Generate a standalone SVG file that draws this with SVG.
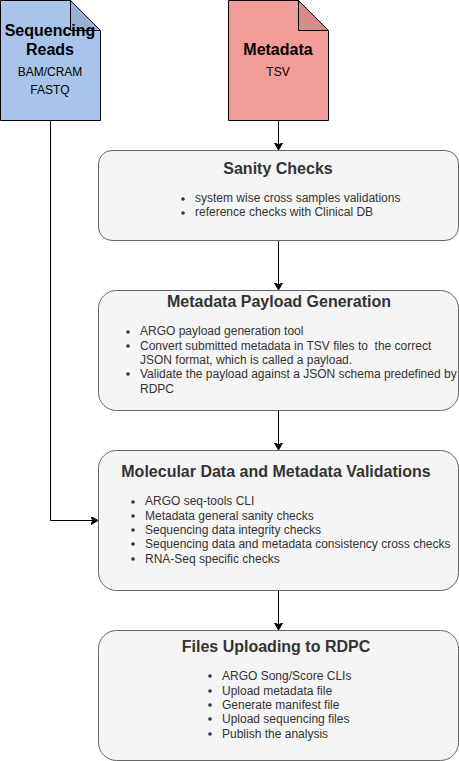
<svg xmlns="http://www.w3.org/2000/svg" width="459" height="761" viewBox="0 0 459 761">
<defs>
<marker id="arr" markerUnits="userSpaceOnUse" markerWidth="10" markerHeight="10" refX="7" refY="4" orient="auto"><path d="M0 0L7 4L0 8L1.75 4Z" fill="#000" stroke="#000" stroke-width="1"/></marker>
</defs>
<style>
text{font-family:"Liberation Sans",Arial,sans-serif;white-space:pre}
.box{fill:#f5f5f5;stroke:#666;stroke-width:1}
.t{font-size:16px;font-weight:bold;fill:#333;text-anchor:middle}
.b{font-size:12px;fill:#333}
.doc{font-size:16px;font-weight:bold;fill:#000;text-anchor:middle}
.sub{font-size:12px;fill:#000;text-anchor:middle}
.c{fill:none;stroke:#000;stroke-width:1;marker-end:url(#arr)}
</style>
<g id="connectors">
<path class="c" d="M278.5 120.5V150"/>
<path class="c" d="M278.5 240.5V290"/>
<path class="c" d="M278.5 410.5V450"/>
<path class="c" d="M278.5 590.5V630"/>
<path class="c" d="M50.5 120.5V520.5H98"/>
</g>
<g id="sequencing-reads">
<path d="M0.5 0.5H70.5L100.5 30.5V120.5H0.5Z" fill="#a9c4eb" stroke="#000"/>
<path d="M70.5 0.5V30.5H100.5Z" fill="#000" fill-opacity="0.1" stroke="#000"/>
<text class="doc" x="50" y="36">Sequencing</text>
<text class="doc" x="50" y="55">Reads</text>
<text class="sub" x="50" y="75.500">BAM/CRAM</text>
<text class="sub" x="50" y="94">FASTQ</text>
</g>
<g id="metadata">
<path d="M228.5 0.5H298.5L328.5 30.5V120.5H228.5Z" fill="#f19c99" stroke="#000"/>
<path d="M298.5 0.5V30.5H328.5Z" fill="#000" fill-opacity="0.1" stroke="#000"/>
<text class="doc" x="278" y="55">Metadata</text>
<text class="sub" x="278" y="75.500">TSV</text>
</g>
<g id="sanity-checks">
<rect class="box" x="98.500" y="150.500" width="360" height="90" rx="13.5"/>
<text class="t" x="278" y="174">Sanity Checks</text>
<circle cx="183" cy="199" r="1.800" fill="#333"/><circle cx="183" cy="213" r="1.800" fill="#333"/>
<text class="b" x="195" y="202">system wise cross samples validations</text>
<text class="b" x="195" y="216">reference checks with Clinical DB</text>
</g>
<g id="payload-generation">
<rect class="box" x="98.500" y="290.500" width="360" height="120" rx="18"/>
<text class="t" x="279" y="307">Metadata Payload Generation</text>
<g fill="#333"><circle cx="128" cy="332" r="1.800"/><circle cx="128" cy="346" r="1.800"/><circle cx="128" cy="374" r="1.800"/></g>
<text class="b" x="140" y="335">ARGO payload generation tool</text>
<text class="b" x="140" y="350" xml:space="preserve">Convert submitted metadata in TSV files to  the correct</text>
<text class="b" x="140" y="364">JSON format, which is called a payload.</text>
<text class="b" x="140" y="378">Validate the payload against a JSON schema predefined by</text>
<text class="b" x="140" y="393">RDPC</text>
</g>
<g id="validations">
<rect class="box" x="98.500" y="450.500" width="360" height="140" rx="18"/>
<text class="t" x="276" y="477">Molecular Data and Metadata Validations</text>
<g fill="#333"><circle cx="133" cy="502" r="1.800"/><circle cx="133" cy="516" r="1.800"/><circle cx="133" cy="530" r="1.800"/><circle cx="133" cy="544" r="1.800"/><circle cx="133" cy="559" r="1.800"/></g>
<text class="b" x="145" y="505">ARGO seq-tools CLI</text>
<text class="b" x="145" y="520">Metadata general sanity checks</text>
<text class="b" x="145" y="534">Sequencing data integrity checks</text>
<text class="b" x="145" y="548">Sequencing data and metadata consistency cross checks</text>
<text class="b" x="145" y="563">RNA-Seq specific checks</text>
</g>
<g id="files-uploading">
<rect class="box" x="98.500" y="630.500" width="360" height="130" rx="18"/>
<text class="t" x="276" y="652">Files Uploading to RDPC</text>
<g fill="#333"><circle cx="210" cy="676" r="1.800"/><circle cx="210" cy="691" r="1.800"/><circle cx="210" cy="705" r="1.800"/><circle cx="210" cy="719" r="1.800"/><circle cx="210" cy="734" r="1.800"/></g>
<text class="b" x="222" y="680">ARGO Song/Score CLIs</text>
<text class="b" x="222" y="695">Upload metadata file</text>
<text class="b" x="222" y="709">Generate manifest file</text>
<text class="b" x="222" y="723">Upload sequencing files</text>
<text class="b" x="222" y="738">Publish the analysis</text>
</g>
</svg>
